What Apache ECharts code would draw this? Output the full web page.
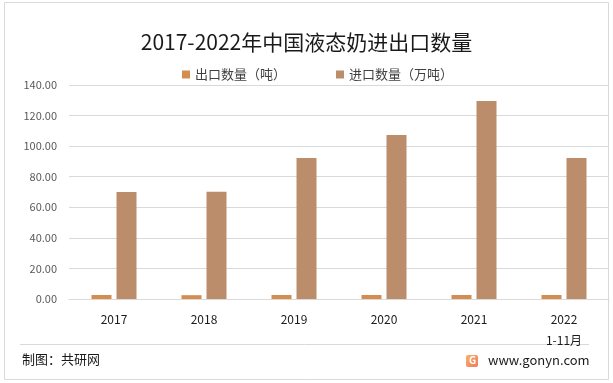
<!DOCTYPE html>
<html>
<head>
<meta charset="utf-8">
<script src="https://cdn.jsdelivr.net/npm/echarts@6/dist/echarts.min.js"></script>
<style>
html,body{margin:0;padding:0;background:#fff;}
#main{width:613px;height:383px;}
</style>
</head>
<body>
<div id="main"></div>
<script>
var categories = ['2017', '2018', '2019', '2020', '2021', '2022\n1-11月'];
var exportVals = [2.6, 2.5, 2.6, 2.6, 2.6, 2.6];
var importVals = [70.0, 70.1, 92.2, 107.3, 129.5, 92.2];
var seriesNames = ['出口数量（吨）', '进口数量（万吨）'];
var yTicks = [0, 20, 40, 60, 80, 100, 120, 140];

var FONT = '"Noto Sans CJK SC", "Noto Sans", sans-serif';
var chart = echarts.init(document.getElementById('main'), null, {renderer: 'canvas'});
chart.setOption({
  backgroundColor: '#fff',
  animation: false,
  textStyle: {fontFamily: FONT},
  title: {
    text: '2017-2022年中国液态奶进出口数量',
    left: 'center',
    top: 27,
    textStyle: {fontFamily: FONT, fontSize: 21, fontWeight: 'normal', color: '#1a1a1a'}
  },
  legend: {
    top: 63,
    left: 177,
    itemWidth: 8,
    itemHeight: 8,
    itemGap: 50,
    icon: 'rect',
    textStyle: {fontFamily: FONT, fontSize: 13, color: '#404040'},
    data: seriesNames
  },
  grid: {left: 69, right: 4, top: 85, bottom: 84},
  xAxis: {
    type: 'category',
    data: categories,
    axisLine: {lineStyle: {color: '#d9d9d9'}},
    axisTick: {show: false},
    axisLabel: {color: '#1a1a1a', fontSize: 12, margin: 10, lineHeight: 21, fontFamily: FONT}
  },
  yAxis: {
    type: 'value',
    min: yTicks[0],
    max: yTicks[yTicks.length - 1],
    interval: 20,
    axisLine: {show: false},
    axisTick: {show: false},
    splitLine: {lineStyle: {color: '#d9d9d9'}},
    axisLabel: {color: '#595959', fontSize: 11, margin: 12, fontFamily: FONT,
      formatter: function (v) { return v.toFixed(2); }}
  },
  series: [
    {name: seriesNames[0], type: 'bar', data: exportVals, barWidth: 20, barGap: '25%',
     itemStyle: {color: '#D58D4F'}},
    {name: seriesNames[1], type: 'bar', data: importVals, barWidth: 20, barGap: '25%',
     itemStyle: {color: '#BB8D6B'}}
  ],
  graphic: [
    {type: 'rect', shape: {x: 4.5, y: 2.5, width: 604, height: 377},
     style: {fill: null, stroke: '#d9d9d9', lineWidth: 1}, silent: true},
    {type: 'line', shape: {x1: 20, y1: 344.5, x2: 589, y2: 344.5},
     style: {stroke: '#d9d9d9', lineWidth: 1}, silent: true},
    {type: 'text', left: 22, top: 353,
     style: {text: '制图：共研网', fontFamily: FONT, fontSize: 13, fill: '#1a1a1a'}},
    {type: 'rect', shape: {x: 466, y: 355, width: 12, height: 12, r: 2},
     style: {fill: {type: 'linear', x: 0, y: 0, x2: 1, y2: 1,
       colorStops: [{offset: 0, color: '#F6B26B'}, {offset: 1, color: '#EE7B5B'}]}}},
    {type: 'text', left: 469, top: 355,
     style: {text: 'G', fontFamily: FONT, fontSize: 10, fontWeight: 'bold', fill: '#fff'}},
    {type: 'text', left: 488, top: 354,
     style: {text: 'www.gonyn.com', fontFamily: FONT, fontSize: 13, fill: '#1a1a1a'}}
  ]
});
</script>
</body>
</html>
